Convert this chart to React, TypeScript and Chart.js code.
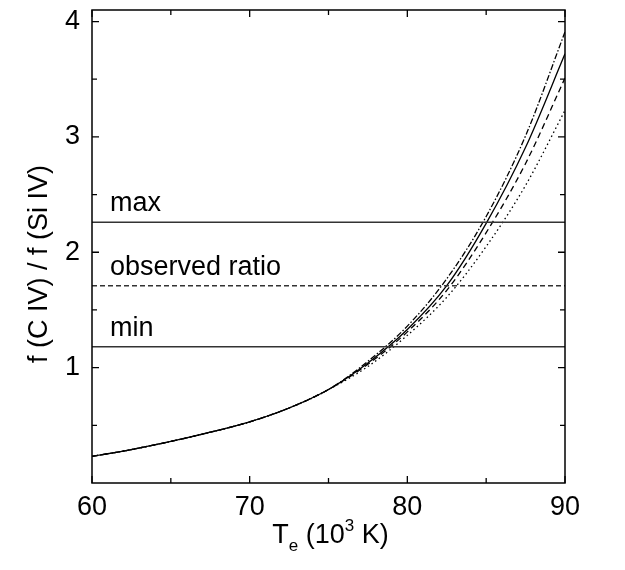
import React, { useEffect, useRef } from 'react';
import { Chart, registerables } from 'chart.js';

Chart.register(...registerables);

// electron temperature, 10^3 K
const temperatures = [60, 62.5, 65, 67.5, 70, 72.5, 75, 77.5, 80, 82.5, 85, 87.5, 90];

// f(C IV) / f(Si IV) for the four model curves
const ratioSolid = [0.23, 0.29, 0.36, 0.44, 0.53, 0.65, 0.81, 1.04, 1.33, 1.71, 2.25, 2.91, 3.72];
const ratioDashDot = [0.23, 0.29, 0.36, 0.44, 0.53, 0.65, 0.81, 1.055, 1.36, 1.77, 2.31, 3.01, 3.91];
const ratioDashed = [0.23, 0.29, 0.36, 0.44, 0.53, 0.65, 0.81, 1.03, 1.31, 1.67, 2.17, 2.77, 3.51];
const ratioDotted = [0.23, 0.29, 0.36, 0.44, 0.53, 0.65, 0.81, 1.01, 1.28, 1.61, 2.05, 2.58, 3.23];

// horizontal reference levels
const refNames = ['max', 'observed ratio', 'min'];
const refLevels = [2.26, 1.71, 1.18];

// axis ticks
const xMajorTicks = [60, 70, 80, 90];
const xMinorTicks = [65, 75, 85];
const yMajorTicks = [1, 2, 3, 4];
const yMinorTicks = [0.5, 1.5, 2.5, 3.5];

const FONT = '"Liberation Sans", Arial, Helvetica, sans-serif';

const toPoints = (ys: number[]) => temperatures.map((t, i) => ({ x: t, y: ys[i] }));

const framePlugin = {
  id: 'frame',
  afterDraw(chart: any) {
    const { ctx, chartArea: a, scales } = chart;
    const xs = scales.x;
    const ys = scales.y;
    ctx.save();

    // box
    ctx.strokeStyle = '#000';
    ctx.lineWidth = 1.5;
    ctx.setLineDash([]);
    ctx.strokeRect(a.left, a.top, a.right - a.left, a.bottom - a.top);

    // inward ticks on all four sides
    const xTick = (v: number, len: number) => {
      const px = xs.getPixelForValue(v);
      ctx.beginPath();
      ctx.moveTo(px, a.bottom);
      ctx.lineTo(px, a.bottom - len);
      ctx.moveTo(px, a.top);
      ctx.lineTo(px, a.top + len);
      ctx.stroke();
    };
    const yTick = (v: number, len: number) => {
      const py = ys.getPixelForValue(v);
      ctx.beginPath();
      ctx.moveTo(a.left, py);
      ctx.lineTo(a.left + len, py);
      ctx.moveTo(a.right, py);
      ctx.lineTo(a.right - len, py);
      ctx.stroke();
    };
    ctx.lineWidth = 1.3;
    xMajorTicks.forEach((v) => xTick(v, 7));
    xMinorTicks.forEach((v) => xTick(v, 5));
    yMajorTicks.forEach((v) => yTick(v, 7));
    yMinorTicks.forEach((v) => yTick(v, 5));

    // reference level labels
    ctx.fillStyle = '#000';
    ctx.font = `27px ${FONT}`;
    ctx.textAlign = 'left';
    ctx.textBaseline = 'alphabetic';
    refNames.forEach((name, i) => {
      ctx.fillText(name, a.left + 18, ys.getPixelForValue(refLevels[i]) - 11);
    });

    // y title
    ctx.save();
    ctx.translate(40, 264);
    ctx.rotate(-Math.PI / 2);
    ctx.textAlign = 'center';
    ctx.textBaseline = 'middle';
    ctx.font = `27px ${FONT}`;
    ctx.fillText('f (C IV) / f (Si IV)', 0, 0);
    ctx.restore();

    // x title: T_e (10^3 K)
    const big = `27px ${FONT}`;
    const small = `17px ${FONT}`;
    const parts: [string, string, number][] = [
      ['T', big, 0],
      ['e', small, 8],
      [' (10', big, 0],
      ['3', small, -12],
      [' K)', big, 0],
    ];
    let total = 0;
    parts.forEach(([s, f]) => {
      ctx.font = f;
      total += ctx.measureText(s).width;
    });
    let x = (a.left + a.right) / 2 + 2 - total / 2;
    const base = 543;
    ctx.textAlign = 'left';
    ctx.textBaseline = 'alphabetic';
    parts.forEach(([s, f, dy]) => {
      ctx.font = f;
      ctx.fillText(s, x, base + dy);
      x += ctx.measureText(s).width;
    });

    ctx.restore();
  },
};

const App: React.FC = () => {
  const canvasRef = useRef<HTMLCanvasElement>(null);

  useEffect(() => {
    if (!canvasRef.current) return;
    const curve = (label: string, ys: number[], dash: number[]) => ({
      label,
      data: toPoints(ys),
      borderColor: '#000',
      borderWidth: 1.3,
      borderDash: dash,
      pointRadius: 0,
      fill: false,
      cubicInterpolationMode: 'monotone' as const,
    });
    const refLine = (i: number) => ({
      label: refNames[i],
      data: [
        { x: temperatures[0], y: refLevels[i] },
        { x: temperatures[temperatures.length - 1], y: refLevels[i] },
      ],
      borderColor: '#333',
      borderWidth: 1.5,
      borderDash: i === 1 ? [5, 3] : [],
      pointRadius: 0,
      fill: false,
    });

    const chart = new Chart(canvasRef.current, {
      type: 'line',
      data: {
        datasets: [
          refLine(0),
          refLine(1),
          refLine(2),
          curve('dotted', ratioDotted, [1.5, 3]),
          curve('dashed', ratioDashed, [6, 4]),
          curve('dash-dot', ratioDashDot, [6, 2, 1.5, 2]),
          curve('solid', ratioSolid, []),
        ],
      },
      options: {
        responsive: false,
        animation: false,
        layout: { padding: { top: 10, right: 60, left: 0, bottom: 0 } },
        plugins: {
          legend: { display: false },
          tooltip: { enabled: false },
        },
        scales: {
          x: {
            type: 'linear',
            min: 60,
            max: 90,
            grid: { display: false },
            border: { display: false },
            ticks: {
              stepSize: 10,
              padding: 0,
              color: '#000',
              font: { family: FONT, size: 27 },
              maxRotation: 0,
              includeBounds: false,
              callback: (v: any) => (xMajorTicks.includes(Number(v)) ? String(v) : ''),
            },
            afterFit: (s: any) => {
              s.height = 87;
              s.paddingLeft = 0;
              s.paddingRight = 0;
            },
          },
          y: {
            type: 'linear',
            min: 0,
            max: 4.1,
            grid: { display: false },
            border: { display: false },
            ticks: {
              stepSize: 1,
              padding: 4,
              color: '#000',
              font: { family: FONT, size: 27 },
              includeBounds: false,
              callback: (v: any) => (yMajorTicks.includes(Number(v)) ? String(v) : ''),
            },
            afterFit: (s: any) => {
              s.width = 92;
              s.paddingTop = 0;
              s.paddingBottom = 0;
            },
          },
        },
      },
      plugins: [framePlugin],
    });

    return () => {
      chart.destroy();
    };
  }, []);

  return (
    <div style={{ position: 'fixed', left: 0, top: 0, width: 625, height: 570, background: '#fff' }}>
      <canvas ref={canvasRef} width={625} height={570} />
    </div>
  );
};

export default App;
